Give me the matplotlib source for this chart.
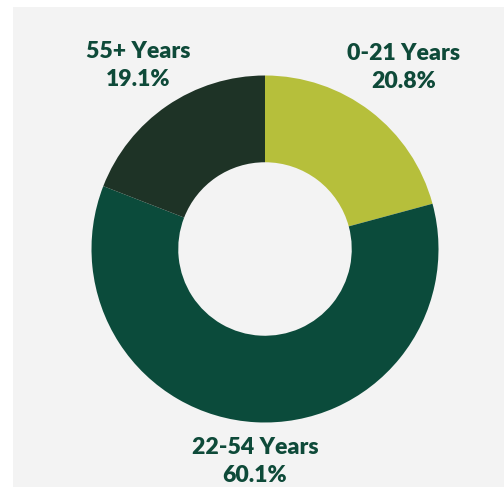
import matplotlib
matplotlib.use("Agg")
import matplotlib.pyplot as plt
from matplotlib.patches import Rectangle

categories = ["0-21 Years", "22-54 Years", "55+ Years"]
values = [20.8, 60.1, 19.1]
colors = ["#b6bf3b", "#0b4b3b", "#1e3326"]
text_color = "#0e4a39"

W, H = 504, 489
fig = plt.figure(figsize=(W / 72, H / 72), dpi=72)
fig.patch.set_facecolor("white")
ax = fig.add_axes([0, 0, 1, 1])

ax.add_patch(Rectangle((13, H - 487), W - 13, 480, facecolor="#f3f3f3", edgecolor="none", zorder=0))

cx, cy, R = 265, H - 249, 173.5
ax.pie(values, colors=colors, startangle=90, counterclock=False,
       center=(cx, cy), radius=R, frame=True,
       wedgeprops=dict(width=R * 0.5, edgecolor="none", linewidth=0))
ax.set_xlim(0, W)
ax.set_ylim(0, H)
ax.set_aspect("equal")
ax.axis("off")

label_pos = {
    "0-21 Years": (404, 53),
    "22-54 Years": (255, 447),
    "55+ Years": (138, 52),
}
for cat, v in zip(categories, values):
    x, y = label_pos[cat]
    ax.text(x, H - y, cat, ha="center", va="center", fontsize=23,
            fontfamily="Lato", fontweight="heavy", color=text_color)
    ax.text(x, H - y - 28, f"{v:.1f}%", ha="center", va="center", fontsize=23,
            fontfamily="Lato", fontweight="heavy", color=text_color)

fig.savefig("out.png", dpi=72, facecolor=fig.get_facecolor())
